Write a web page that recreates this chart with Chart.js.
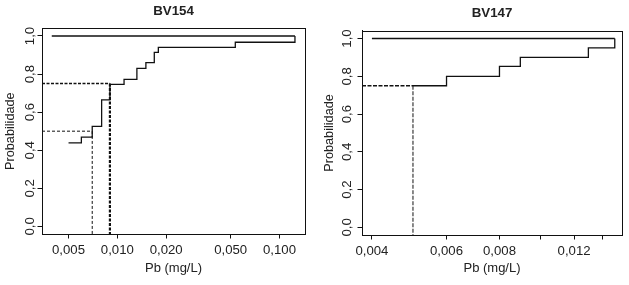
<!DOCTYPE html>
<html>
<head>
<meta charset="utf-8">
<script src="https://cdn.jsdelivr.net/npm/chart.js@4.4.1/dist/chart.umd.min.js"></script>
<style>
  body { margin: 0; background: #fff; }
  canvas { position: absolute; top: 0; }
  #bv154 { left: 0; }
  #bv147 { left: 314px; }
</style>
</head>
<body>
<canvas id="bv154" width="314" height="285"></canvas>
<canvas id="bv147" width="315" height="285"></canvas>
<script>
// shared y axis
const yTicks = [0, 0.2, 0.4, 0.6, 0.8, 1.0];
const yMin = -0.04, yMax = 1.04;

// BV154 - lower step curve (Pb mg/L vs probability)
const bv154X = [0.0050, 0.0060, 0.0070, 0.0080, 0.0090, 0.0110, 0.0132, 0.0150, 0.0169, 0.0179, 0.0534, 0.1246];
const bv154P = [0.439, 0.469, 0.525, 0.664, 0.746, 0.772, 0.830, 0.860, 0.914, 0.940, 0.967, 1.0];
const bv154TopX = [0.00394, 0.1246];
const bv154TopP = [1.0, 1.0];
const bv154RefP = [0.5, 0.75];
const bv154RefX = [0.0070, 0.0090];
const bv154Ticks = [0.005, 0.010, 0.020, 0.050, 0.100];
const bv154Labels = ["0,005", "0,010", "0,020", "0,050", "0,100"];
const bv154Range = [0.00343, 0.1437];

// BV147
const bv147X = [0.0050, 0.0060, 0.0080, 0.00896, 0.01297, 0.01497];
const bv147P = [0.75, 0.80, 0.853, 0.90, 0.95, 1.0];
const bv147TopX = [0.0040, 0.01497];
const bv147TopP = [1.0, 1.0];
const bv147RefP = [0.75];
const bv147RefX = [0.0050];
const bv147Ticks = [0.004, 0.006, 0.008, 0.010, 0.012, 0.014];
const bv147Labels = ["0,004", "0,006", "0,008", "", "0,012", ""];
const bv147Range = [0.00379, 0.01557];

Chart.defaults.font.family = '"Liberation Sans", Arial, Helvetica, sans-serif';
Chart.defaults.color = "#222";

const boxPlugin = {
  id: "box",
  afterDraw(chart) {
    const a = chart.chartArea;
    const ctx = chart.ctx;
    ctx.save();
    ctx.strokeStyle = "#111";
    ctx.lineWidth = 1;
    ctx.strokeRect(Math.round(a.left) + 0.5, Math.round(a.top) + 0.5,
      Math.round(a.right) - Math.round(a.left), Math.round(a.bottom) - Math.round(a.top));
    ctx.restore();
  },
};

function pts(xs, ys) {
  return xs.map((x, i) => ({ x: x, y: ys[i] }));
}

function refLine(xMin, x, p) {
  return [{ x: xMin, y: p }, { x: x, y: p }, { x: x, y: yMin }];
}

function makePanel(id, cfg) {
  const datasets = [
    { data: pts(cfg.stepX, cfg.stepP), stepped: "before", borderWidth: 1.3 },
    { data: pts(cfg.topX, cfg.topP), borderWidth: 1.3 },
  ];
  cfg.refX.forEach((x, i) => {
    const st = cfg.refStyle[i];
    datasets.push({
      data: refLine(cfg.range[0], x, cfg.refP[i]),
      borderDash: st.dash,
      segment: {
        borderWidth: (c) => (c.p0DataIndex === 0 ? st.hw : st.vw),
      },
    });
  });
  datasets.forEach((d) => {
    d.showLine = true;
    d.pointRadius = 0;
    d.borderColor = "#111";
    d.fill = false;
  });

  new Chart(document.getElementById(id), {
    type: "scatter",
    data: { datasets: datasets },
    options: {
      responsive: false,
      animation: false,
      events: [],
      layout: { padding: { right: cfg.padRight, left: 0, top: 0, bottom: 0 } },
      plugins: {
        legend: { display: false },
        tooltip: { enabled: false },
        title: {
          display: true,
          text: cfg.title,
          fullSize: false,
          color: "#222",
          font: { size: 13.3, weight: "bold" },
          padding: { top: cfg.titleTop, bottom: cfg.titleBottom },
        },
      },
      scales: {
        x: {
          type: "logarithmic",
          position: "bottom",
          min: cfg.range[0],
          max: cfg.range[1],
          afterBuildTicks: (s) => { s.ticks = cfg.ticks.map((v) => ({ value: v })); },
          afterFit: (s) => { s.height = cfg.xHeight; },
          ticks: {
            autoSkip: false,
            maxRotation: 0,
            padding: 3.6,
            font: { size: 13.2 },
            callback: (v, i) => cfg.labels[i],
          },
          grid: { drawOnChartArea: false, tickLength: 4.5, color: "#111" },
          border: { display: true, color: "#111" },
          title: {
            display: true,
            text: "Pb (mg/L)",
            font: { size: 13 },
            padding: { bottom: 9.2 },
          },
        },
        y: {
          type: "linear",
          position: "left",
          min: yMin,
          max: yMax,
          afterBuildTicks: (s) => { s.ticks = yTicks.map((v) => ({ value: v })); },
          afterFit: (s) => { s.width = cfg.yWidth; },
          ticks: {
            autoSkip: false,
            minRotation: 90,
            maxRotation: 90,
            crossAlign: "center",
            padding: cfg.yPad,
            font: { size: 13.2 },
            callback: (v) => v.toFixed(1).replace(".", ","),
          },
          grid: { drawOnChartArea: false, tickLength: 4.5, color: "#111" },
          border: { display: true, color: "#111" },
          title: {
            display: true,
            text: "Probabilidade",
            font: { size: 12.7 },
            padding: { top: cfg.yTitlePad },
          },
        },
      },
    },
    plugins: [boxPlugin],
  });
}

makePanel("bv154", {
  title: "BV154",
  stepX: bv154X, stepP: bv154P,
  topX: bv154TopX, topP: bv154TopP,
  refX: bv154RefX, refP: bv154RefP,
  refStyle: [
    { dash: [3, 2], hw: 1, vw: 1 },
    { dash: [3, 1.5], hw: 1.5, vw: 2.2 },
  ],
  ticks: bv154Ticks, labels: bv154Labels, range: bv154Range,
  padRight: 9, titleTop: 3.8, titleBottom: 8.6,
  xHeight: 51, yWidth: 42, yPad: -2.2, yTitlePad: 2.4,
});

makePanel("bv147", {
  title: "BV147",
  stepX: bv147X, stepP: bv147P,
  topX: bv147TopX, topP: bv147TopP,
  refX: bv147RefX, refP: bv147RefP,
  refStyle: [
    { dash: [4, 1.5], hw: 1.6, vw: 1 },
  ],
  ticks: bv147Ticks, labels: bv147Labels, range: bv147Range,
  padRight: 7, titleTop: 5.0, titleBottom: 10.0,
  xHeight: 50, yWidth: 48, yPad: 0.5, yTitlePad: 7.4,
});
</script>
</body>
</html>
